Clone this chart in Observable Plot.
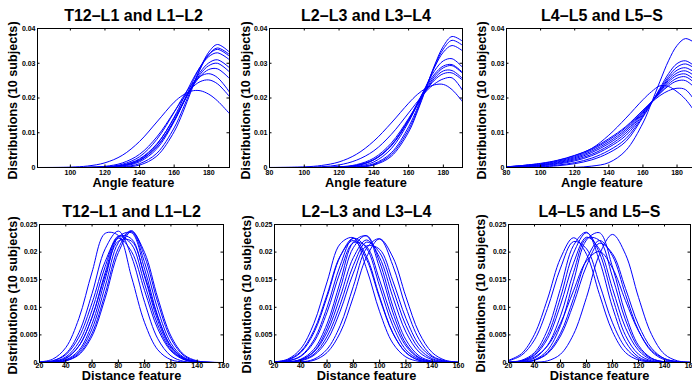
<!DOCTYPE html>
<html>
<head>
<meta charset="utf-8">
<script src="https://cdn.jsdelivr.net/npm/d3@7"></script>
<script src="https://cdn.jsdelivr.net/npm/@observablehq/plot@0.6"></script>
<style>
  html, body { margin: 0; padding: 0; background: #fff; overflow: hidden; }
  #fig { position: relative; width: 692px; height: 383px; overflow: hidden; background: #fff; }
  #fig > div { position: absolute; }
</style>
</head>
<body>
<div id="fig"></div>
<script>
// ---------- data ----------
const titles = ["T12–L1 and L1–L2", "L2–L3 and L3–L4", "L4–L5 and L5–S"];
const angleLabel = "Angle feature";
const distLabel = "Distance feature";
const yLabel = "Distributions (10 subjects)";

const angleX = [80, 100, 110, 120, 130, 140, 150, 160, 165, 170, 175, 180, 185, 192];
const distX = [20, 30, 40, 50, 60, 70, 80, 90, 100, 110, 120, 130, 140, 150, 160];

const angleTicksFirst = [100, 120, 140, 160, 180];
const angleTicks = [80, 100, 120, 140, 160, 180];
const distTicks = [20, 40, 60, 80, 100, 120, 140, 160];
const angleYTicks = [0, 0.01, 0.02, 0.03, 0.04];
const distYTicks = [0, 0.005, 0.01, 0.015, 0.02, 0.025];

const angleT12L1 = [
  [0, 0, 0, 0.00001, 0.00011, 0.0007, 0.0033, 0.0103, 0.0158, 0.0222, 0.0284, 0.0332, 0.0354, 0.0332],
  [0, 0, 0, 0.00003, 0.0002, 0.0011, 0.0041, 0.0114, 0.0168, 0.0227, 0.0283, 0.0325, 0.0344, 0.0325],
  [0, 0, 0, 0.00006, 0.00038, 0.00164, 0.0054, 0.0132, 0.0184, 0.0239, 0.0289, 0.0325, 0.034, 0.032],
  [0, 0, 0.00002, 0.00013, 0.0006, 0.0023, 0.0066, 0.0145, 0.0195, 0.0246, 0.0289, 0.0319, 0.033, 0.031],
  [0, 0, 0.00001, 0.0001, 0.0005, 0.002, 0.006, 0.0135, 0.0183, 0.0232, 0.0274, 0.0301, 0.031, 0.0287],
  [0, 0, 0.00002, 0.0001, 0.00053, 0.002, 0.006, 0.0135, 0.0182, 0.0229, 0.0268, 0.0293, 0.030, 0.0275],
  [0, 0, 0.00003, 0.00015, 0.0007, 0.0025, 0.0068, 0.0142, 0.0186, 0.0228, 0.0262, 0.0282, 0.0284, 0.0256],
  [0, 0, 0.00003, 0.0002, 0.00092, 0.0031, 0.0081, 0.0159, 0.0202, 0.0238, 0.0262, 0.027, 0.0259, 0.0217],
  [0, 0.00001, 0.00007, 0.00033, 0.0013, 0.0038, 0.0088, 0.016, 0.0197, 0.0228, 0.0247, 0.0252, 0.0241, 0.0204],
  [0, 0.00011, 0.00043, 0.00135, 0.0035, 0.0075, 0.0131, 0.0188, 0.0208, 0.022, 0.0221, 0.0211, 0.0192, 0.0155]
];

const angleL2L3 = [
  [0, 0, 0, 0.00001, 0.0001, 0.0007, 0.0032, 0.0102, 0.016, 0.0227, 0.0295, 0.0349, 0.0377, 0.036],
  [0, 0, 0, 0.00002, 0.00015, 0.00087, 0.0037, 0.0109, 0.0165, 0.0229, 0.0292, 0.0341, 0.0366, 0.0348],
  [0, 0, 0, 0.00003, 0.0002, 0.0011, 0.0042, 0.0117, 0.0171, 0.0232, 0.0289, 0.0332, 0.0351, 0.0332],
  [0, 0, 0.00001, 0.00006, 0.00036, 0.0016, 0.0054, 0.0131, 0.0182, 0.0234, 0.0279, 0.0307, 0.0313, 0.0283],
  [0, 0, 0.00002, 0.00011, 0.00056, 0.0022, 0.0063, 0.0138, 0.0185, 0.0231, 0.0269, 0.0292, 0.0296, 0.0269],
  [0, 0, 0.00002, 0.00013, 0.00063, 0.0023, 0.0064, 0.0137, 0.0182, 0.0226, 0.0263, 0.0287, 0.0293, 0.0266],
  [0, 0, 0.00002, 0.00011, 0.00058, 0.0022, 0.0062, 0.0135, 0.0179, 0.0222, 0.0257, 0.0278, 0.0279, 0.0251],
  [0, 0, 0.00004, 0.00019, 0.00082, 0.0027, 0.007, 0.0141, 0.0182, 0.0221, 0.0252, 0.027, 0.0272, 0.0247],
  [0, 0.00006, 0.00023, 0.00074, 0.0021, 0.0048, 0.0095, 0.0157, 0.0189, 0.0219, 0.0241, 0.0255, 0.0258, 0.0214],
  [0.00001, 0.00018, 0.00059, 0.0016, 0.0038, 0.0076, 0.0128, 0.0185, 0.021, 0.0228, 0.0238, 0.0239, 0.0224, 0.0183]
];

const angleL4L5 = [
  [0, 0, 0.000005, 0.00004, 0.0004, 0.0014, 0.0049, 0.0128, 0.0186, 0.0248, 0.0307, 0.0351, 0.0371, 0.0353],
  [0.0001, 0.0012, 0.0021, 0.0035, 0.0055, 0.0093, 0.0142, 0.0195, 0.0218, 0.0235, 0.0233, 0.0218, 0.0196, 0.015],
  [0, 0.0002, 0.0005, 0.0011, 0.0022, 0.0042, 0.0075, 0.0145, 0.0185, 0.0228, 0.027, 0.0299, 0.0307, 0.0285],
  [0, 0.0003, 0.0007, 0.0014, 0.0027, 0.0049, 0.0083, 0.0148, 0.0186, 0.0225, 0.0262, 0.0289, 0.0298, 0.028],
  [0.0001, 0.0005, 0.001, 0.0019, 0.0034, 0.0058, 0.0092, 0.0152, 0.0187, 0.0222, 0.0256, 0.028, 0.0287, 0.0268],
  [0.0001, 0.0006, 0.0012, 0.0022, 0.0038, 0.0063, 0.0099, 0.0156, 0.0188, 0.022, 0.0251, 0.0272, 0.0278, 0.0257],
  [0.0001, 0.0007, 0.0014, 0.0025, 0.0043, 0.0069, 0.0105, 0.0159, 0.0188, 0.0218, 0.0246, 0.0265, 0.0269, 0.0245],
  [0.0001, 0.0008, 0.0016, 0.0028, 0.0047, 0.0074, 0.011, 0.0161, 0.0188, 0.0215, 0.024, 0.0257, 0.0261, 0.0236],
  [0.0002, 0.001, 0.0018, 0.0031, 0.0051, 0.0079, 0.0115, 0.0164, 0.0189, 0.0213, 0.0235, 0.0249, 0.025, 0.0222],
  [0.0002, 0.0011, 0.002, 0.0034, 0.0054, 0.0083, 0.0118, 0.0165, 0.0187, 0.0207, 0.0221, 0.0228, 0.0224, 0.018]
];

const distT12L1 = [
  [0.0001, 0.0006, 0.0027, 0.008, 0.0164, 0.0234, 0.023, 0.0155, 0.0072, 0.0023, 0.0005, 0.0001, 0, 0, 0],
  [0.00005, 0.0003, 0.0016, 0.0054, 0.0125, 0.0206, 0.0238, 0.0192, 0.0109, 0.0043, 0.0012, 0.0002, 0.00003, 0, 0],
  [0.00005, 0.0003, 0.0014, 0.0046, 0.0108, 0.0183, 0.0225, 0.0201, 0.013, 0.0061, 0.0021, 0.0005, 0.0001, 0, 0],
  [0.00003, 0.0002, 0.001, 0.0037, 0.0095, 0.0174, 0.0229, 0.0214, 0.0142, 0.0068, 0.0023, 0.0006, 0.0001, 0, 0],
  [0.00002, 0.00013, 0.0007, 0.003, 0.0082, 0.0163, 0.0228, 0.0224, 0.0155, 0.0076, 0.0026, 0.0006, 0.0001, 0, 0],
  [0, 0.0001, 0.0005, 0.0022, 0.007, 0.0151, 0.0227, 0.0235, 0.0169, 0.0084, 0.0029, 0.0007, 0.0001, 0, 0],
  [0, 0.00006, 0.0004, 0.0019, 0.0061, 0.0138, 0.0217, 0.0237, 0.0181, 0.0096, 0.0035, 0.0009, 0.00016, 0.00002, 0],
  [0, 0.00005, 0.0003, 0.0016, 0.0053, 0.0125, 0.0207, 0.0239, 0.0192, 0.0109, 0.0043, 0.0012, 0.0002, 0.00003, 0],
  [0, 0.00004, 0.0003, 0.0014, 0.0048, 0.0117, 0.0199, 0.0237, 0.0199, 0.0117, 0.0048, 0.0014, 0.0003, 0.00004, 0],
  [0.00002, 0.00016, 0.0008, 0.003, 0.0082, 0.0158, 0.022, 0.022, 0.0158, 0.0082, 0.003, 0.0008, 0.00016, 0.00002, 0]
];

const distL2L3 = [
  [0.00011, 0.0006, 0.0025, 0.0071, 0.0146, 0.0215, 0.0226, 0.017, 0.0092, 0.0035, 0.001, 0.0002, 0.00003, 0, 0],
  [0.00007, 0.0004, 0.0018, 0.0054, 0.0119, 0.0192, 0.0225, 0.0192, 0.0119, 0.0054, 0.0018, 0.0004, 0.00007, 0.00001, 0],
  [0.00004, 0.0003, 0.0012, 0.0041, 0.01, 0.0176, 0.0225, 0.0207, 0.0138, 0.0067, 0.0023, 0.0006, 0.0001, 0.00001, 0],
  [0.00004, 0.00025, 0.0011, 0.0037, 0.0091, 0.0164, 0.0217, 0.021, 0.0149, 0.0078, 0.003, 0.0008, 0.00017, 0.00003, 0],
  [0.00001, 0.0001, 0.0006, 0.0024, 0.007, 0.0146, 0.0218, 0.0229, 0.0171, 0.0091, 0.0034, 0.0009, 0.00017, 0.00002, 0],
  [0.00001, 0.00008, 0.0005, 0.002, 0.0062, 0.0134, 0.0208, 0.023, 0.0182, 0.0102, 0.0041, 0.0012, 0.00024, 0.00004, 0],
  [0.00001, 0.00008, 0.0005, 0.0019, 0.0055, 0.0119, 0.019, 0.0222, 0.019, 0.0119, 0.0055, 0.0019, 0.0005, 0.00008, 0.00001],
  [0.00001, 0.00007, 0.0004, 0.0015, 0.0047, 0.0105, 0.0176, 0.0218, 0.0199, 0.0134, 0.0067, 0.0025, 0.0007, 0.00014, 0.00002],
  [0, 0.00002, 0.0001, 0.0006, 0.0024, 0.0067, 0.0138, 0.0207, 0.0224, 0.0176, 0.01, 0.0042, 0.0012, 0.0003, 0.00004],
  [0, 0.00001, 0.00008, 0.0004, 0.0018, 0.0054, 0.0119, 0.0191, 0.0224, 0.0191, 0.0119, 0.0054, 0.0018, 0.0004, 0.00008],
  [0.0001, 0.0005, 0.002, 0.0058, 0.0123, 0.0193, 0.0221, 0.0187, 0.0116, 0.0053, 0.0018, 0.0004, 0.00008, 0.00001, 0],
  [0.00001, 0.00005, 0.0003, 0.0013, 0.004, 0.0093, 0.0162, 0.0211, 0.0205, 0.0148, 0.008, 0.0032, 0.001, 0.0002, 0.00004]
];

const distL4L5 = [
  [0.0004, 0.0016, 0.0051, 0.0115, 0.0189, 0.0226, 0.0196, 0.0123, 0.0056, 0.0018, 0.00045, 0.00008, 0.00001, 0, 0],
  [0.0003, 0.0013, 0.0041, 0.0098, 0.0171, 0.0219, 0.0206, 0.0142, 0.0072, 0.0027, 0.0007, 0.00014, 0.00002, 0, 0],
  [0.00006, 0.0004, 0.0018, 0.0059, 0.0134, 0.0212, 0.0236, 0.0184, 0.01, 0.0038, 0.001, 0.0002, 0.00003, 0, 0],
  [0.00005, 0.0003, 0.0015, 0.0049, 0.0118, 0.0198, 0.0235, 0.0198, 0.0118, 0.0049, 0.0015, 0.0003, 0.00005, 0, 0],
  [0.00002, 0.00015, 0.0008, 0.0031, 0.0084, 0.0163, 0.0225, 0.0221, 0.0155, 0.0077, 0.0027, 0.0007, 0.00012, 0.00002, 0],
  [0.00001, 0.00007, 0.0005, 0.0022, 0.0067, 0.0147, 0.0222, 0.0235, 0.0173, 0.0088, 0.0031, 0.0008, 0.00013, 0.00002, 0],
  [0.00005, 0.00025, 0.001, 0.003, 0.0071, 0.013, 0.0184, 0.0201, 0.0171, 0.0112, 0.0057, 0.0022, 0.0007, 0.00016, 0.00003],
  [0.00001, 0.00008, 0.0004, 0.0018, 0.0053, 0.0116, 0.0187, 0.0221, 0.0193, 0.0123, 0.0058, 0.002, 0.0005, 0.0001, 0.00001],
  [0.00001, 0.00007, 0.0004, 0.0016, 0.0048, 0.0106, 0.0175, 0.0216, 0.0197, 0.0134, 0.0068, 0.0026, 0.0007, 0.00015, 0.00002],
  [0, 0.00001, 0.00005, 0.0003, 0.0015, 0.0051, 0.0118, 0.0196, 0.0232, 0.0196, 0.0118, 0.0051, 0.0015, 0.0003, 0.00005],
  [0.00004, 0.0003, 0.0013, 0.0043, 0.0104, 0.018, 0.0227, 0.0205, 0.0134, 0.0063, 0.0022, 0.0005, 0.0001, 0.00001, 0]
];

// ---------- layout ----------
const FONT = "'Liberation Sans', Arial, Helvetica, sans-serif";
const panels = [
  {title: titles[0], xs: angleX, series: angleT12L1, xDomain: [81, 192], xTicks: angleTicksFirst, yDomain: [0, 0.04], yTicks: angleYTicks, xLabel: angleLabel,
   box: [0, 0, 232, 192], m: [28, 3, 25, 37], yl: [12, 100], xlDy: 19.5, tickPad: 3},
  {title: titles[1], xs: angleX, series: angleL2L3, xDomain: [80, 191], xTicks: angleTicks, yDomain: [0, 0.04], yTicks: angleYTicks, xLabel: angleLabel,
   box: [232, 0, 232, 192], m: [28, 2, 25, 37], yl: [245, 100], xlDy: 19.5, tickPad: 3},
  {title: titles[2], xs: angleX, series: angleL4L5, xDomain: [80, 192], xTicks: angleTicks, yDomain: [0, 0.04], yTicks: angleYTicks, xLabel: angleLabel,
   box: [464, 0, 236, 192], m: [28, 3, 25, 42], yl: [481.5, 100], xlDy: 19.5, tickPad: 3},
  {title: titles[0], xs: distX, series: distT12L1, xDomain: [20, 160], xTicks: distTicks, yDomain: [0, 0.025], yTicks: distYTicks, xLabel: distLabel,
   box: [0, 192, 232, 191], m: [32, 9, 21, 39], yl: [12, 295], xlDy: 17.5, tickPad: 1},
  {title: titles[1], xs: distX, series: distL2L3, xDomain: [20, 160], xTicks: distTicks, yDomain: [0, 0.025], yTicks: distYTicks, xLabel: distLabel,
   box: [232, 192, 234, 191], m: [32, 8, 21, 42], yl: [246.5, 294], xlDy: 17.5, tickPad: 1},
  {title: titles[2], xs: distX, series: distL4L5, xDomain: [20, 160], xTicks: distTicks, yDomain: [0, 0.025], yTicks: distYTicks, xLabel: distLabel,
   box: [466, 192, 230, 191], m: [32, 6, 21, 42], yl: [480.5, 293], xlDy: 17.5, tickPad: 1}
];

const fig = document.getElementById("fig");
const TL = 2.5; // inward tick length

for (const p of panels) {
  const [bx, by, W, H] = p.box;
  const [mT, mR, mB, mL] = p.m;
  const innerW = W - mL - mR, innerH = H - mT - mB;
  const data = p.series.flatMap((ys, i) => ys.map((y, j) => ({x: p.xs[j], y, id: i})));
  const ylDx = p.yl[0] - (bx + mL);
  const ylDy = p.yl[1] - (by + mT + innerH / 2);

  const chart = Plot.plot({
    width: W, height: H,
    marginTop: mT, marginRight: mR, marginBottom: mB, marginLeft: mL,
    style: {fontFamily: FONT, fontWeight: "bold", background: "transparent", maxWidth: "none", overflow: "visible", color: "black"},
    x: {domain: p.xDomain},
    y: {domain: p.yDomain},
    marks: [
      Plot.line(data, {x: "x", y: "y", z: "id", stroke: "#0000ff", strokeWidth: 1, curve: "catmull-rom", clip: true}),
      Plot.frame({stroke: "black", strokeWidth: 1}),
      Plot.ruleX(p.xTicks, {x: d => d, insetTop: innerH - TL, stroke: "black"}),
      Plot.ruleX(p.xTicks, {x: d => d, insetBottom: innerH - TL, stroke: "black"}),
      Plot.ruleY(p.yTicks, {y: d => d, insetRight: innerW - TL, stroke: "black"}),
      Plot.ruleY(p.yTicks, {y: d => d, insetLeft: innerW - TL, stroke: "black"}),
      Plot.axisX({ticks: p.xTicks, tickSize: 0, tickPadding: p.tickPad, fontSize: 7, fontWeight: "bold", label: null, tickFormat: d => String(d)}),
      Plot.axisY({ticks: p.yTicks, tickSize: 0, tickPadding: 2, fontSize: 7, fontWeight: "bold", label: null, tickFormat: d => String(d)}),
      Plot.text([p.title], {text: d => d, frameAnchor: "top", dy: -7.5, lineAnchor: "bottom", fontSize: 16, fontWeight: "bold", fill: "black"}),
      Plot.text([p.xLabel], {text: d => d, frameAnchor: "bottom", dy: p.xlDy, lineAnchor: "bottom", fontSize: 12.8, fontWeight: "bold", fill: "black"}),
      Plot.text([yLabel], {text: d => d, frameAnchor: "left", rotate: -90, dx: ylDx, dy: ylDy, lineAnchor: "middle", textAnchor: "middle", fontSize: 12.6, fontWeight: "bold", fill: "black"})
    ]
  });
  const wrap = document.createElement("div");
  wrap.style.left = bx + "px";
  wrap.style.top = by + "px";
  wrap.style.width = W + "px";
  wrap.style.height = H + "px";
  wrap.appendChild(chart);
  fig.appendChild(wrap);
}
</script>
</body>
</html>
